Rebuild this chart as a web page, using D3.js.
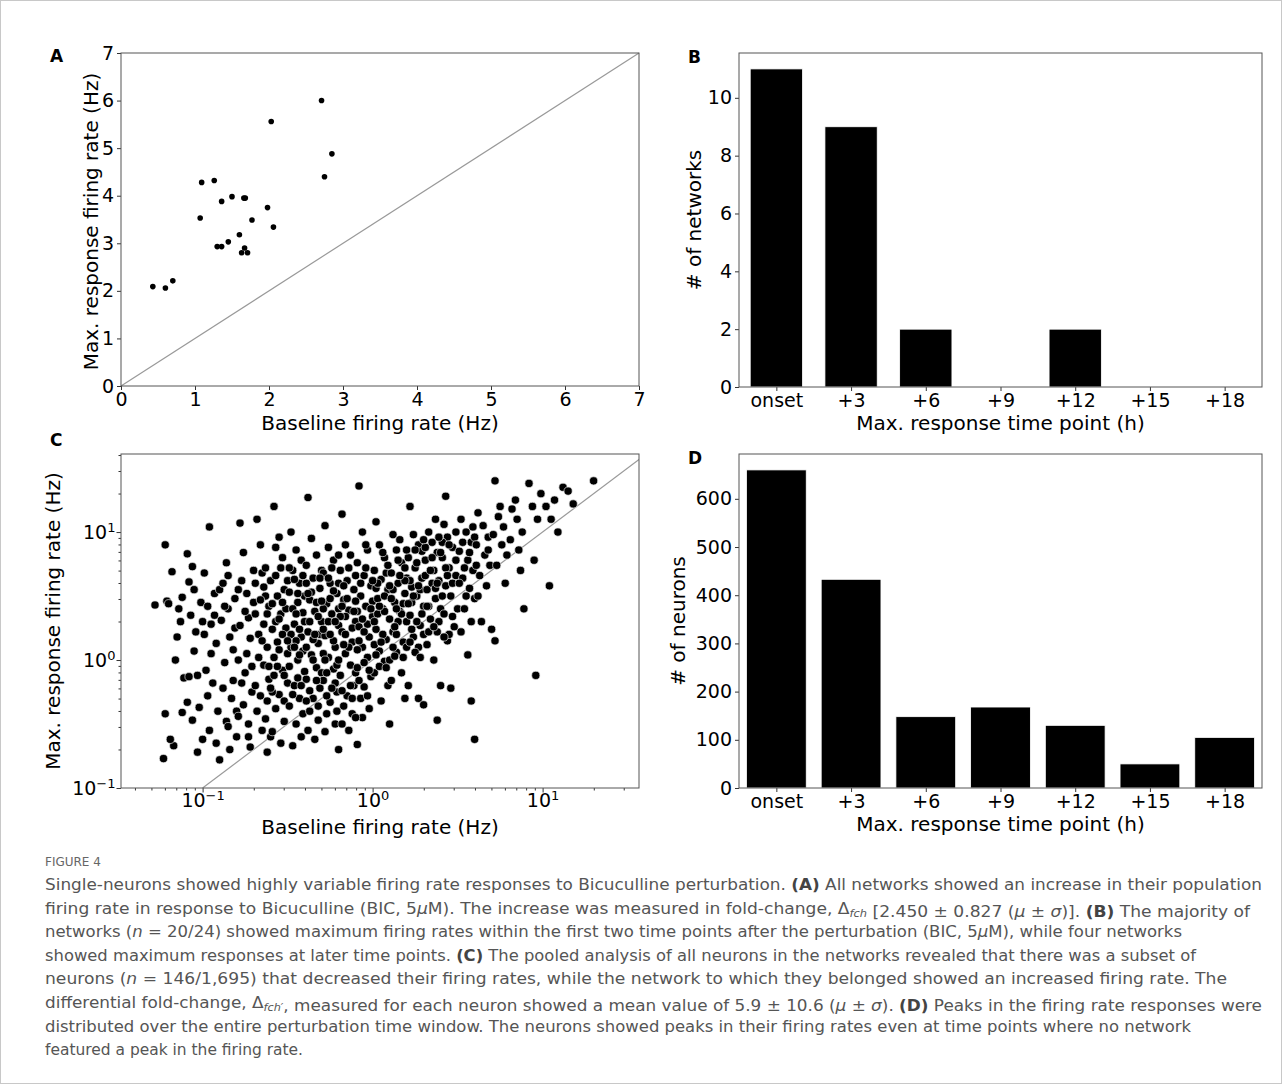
<!DOCTYPE html>
<html>
<head>
<meta charset="utf-8">
<script src="https://cdn.jsdelivr.net/npm/d3@7"></script>
<style>
  body { margin: 0; background: #fff; }
  svg text { font-family: "DejaVu Sans", sans-serif; }
</style>
</head>
<body>
<svg id="fig" width="1282" height="1084"></svg>
<script>
// Panel A: network baseline vs max response (Hz)
var netBaseline = [0.43, 0.60, 0.70, 1.07, 1.09, 1.26, 1.30, 1.36, 1.36, 1.45, 1.50, 1.60,
                   1.63, 1.67, 1.68, 1.66, 1.71, 1.77, 1.98, 2.03, 2.06, 2.71, 2.75, 2.85];
var netMaxResp  = [2.09, 2.06, 2.21, 3.53, 4.28, 4.32, 2.93, 2.93, 3.88, 3.03, 3.98, 3.18,
                   2.80, 2.90, 3.95, 3.95, 2.80, 3.49, 3.75, 5.56, 3.34, 6.00, 4.40, 4.88];

// Panel B / D: counts per max-response time point
var timePoints = ["onset", "+3", "+6", "+9", "+12", "+15", "+18"];
var networkCounts = [11, 9, 2, 0, 2, 0, 0];
var neuronCounts = [660, 433, 148, 168, 130, 50, 105];

// Panel C: neurons, [log10 baseline, log10 max response]
var neuronLogPts = [
[-1.28,0.43],[-1.22,0.9],[-1.22,-0.42],[-1.23,-0.77],[-1.21,0.46],[-1.2,0.44],
[-1.18,0.69],[-1.17,-0.67],[-1.16,0.0],[-1.14,0.4],[-1.13,0.3],[-1.12,0.49],[-1.15,0.18],[-1.11,-0.14],[-1.12,-0.41],[-1.19,-0.62],
[-1.09,0.83],[-1.08,0.61],[-1.06,0.73],[-1.07,0.35],[-1.05,0.55],[-1.04,0.22],[-1.03,-0.12],[-1.02,-0.37],[-1.06,-0.47],[-1.01,0.45],[-1.05,0.07],[-1.09,-0.33],[-1.0,0.3],[-1.03,-0.72],[-1.08,-0.13],[-1.0,-0.62],
[-0.96,1.04],[-0.99,0.68],[-0.97,0.42],[-0.95,0.28],[-0.93,0.52],[-0.92,0.13],[-0.98,-0.08],[-0.94,-0.18],[-0.91,-0.4],[-0.96,-0.55],[-0.9,-0.78],[-0.93,0.35],[-0.99,0.2],[-0.92,-0.65],[-0.97,-0.28],[-0.9,0.55],[-0.95,0.05],
[-0.88,0.6],[-0.86,0.76],[-0.85,0.4],[-0.84,0.18],[-0.87,-0.02],[-0.82,-0.16],[-0.81,0.48],[-0.89,0.31],[-0.83,-0.3],[-0.86,-0.48],[-0.8,-0.6],[-0.84,-0.7],[-0.82,0.08],[-0.88,-0.22],[-0.81,0.25],[-0.85,0.66],[-0.8,-0.4],[-0.87,0.42],
[-0.78,1.07],[-0.76,0.84],[-0.74,0.52],[-0.73,0.33],[-0.77,0.62],[-0.72,0.17],[-0.79,0.0],[-0.75,-0.1],[-0.71,-0.25],[-0.76,-0.35],[-0.73,-0.5],[-0.79,-0.44],[-0.7,0.45],[-0.72,-0.68],[-0.78,0.27],[-0.74,0.05],[-0.71,-0.05],[-0.77,-0.18],[-0.7,0.7],[-0.75,0.38],[-0.73,-0.6],[-0.79,0.55],
[-0.68,1.1],[-0.66,0.9],[-0.65,0.68],[-0.63,0.5],[-0.69,0.36],[-0.67,0.2],[-0.62,0.1],[-0.64,-0.04],[-0.61,-0.15],[-0.66,-0.28],[-0.68,-0.4],[-0.63,-0.46],[-0.6,-0.6],[-0.65,-0.55],[-0.69,0.6],[-0.61,0.42],[-0.64,0.28],[-0.67,0.02],[-0.62,-0.32],[-0.6,0.62],[-0.66,0.47],[-0.63,0.72],[-0.69,-0.2],[-0.61,-0.05],[-0.65,0.15],
[-0.58,1.2],[-0.55,0.96],[-0.53,0.8],[-0.57,0.66],[-0.52,0.55],[-0.59,0.44],[-0.54,0.36],[-0.51,0.25],[-0.56,0.14],[-0.58,0.02],[-0.53,-0.08],[-0.5,-0.18],[-0.55,-0.27],[-0.57,-0.38],[-0.52,-0.48],[-0.59,-0.56],[-0.54,-0.65],[-0.5,0.62],[-0.56,0.5],[-0.51,0.4],[-0.53,0.2],[-0.58,-0.12],[-0.55,0.08],[-0.52,-0.32],[-0.57,0.3],[-0.5,0.05],[-0.54,0.72],[-0.59,-0.25],
[-0.48,1.0],[-0.45,0.86],[-0.47,0.7],[-0.43,0.6],[-0.49,0.53],[-0.44,0.45],[-0.41,0.37],[-0.46,0.28],[-0.42,0.18],[-0.48,0.1],[-0.44,0.0],[-0.4,-0.09],[-0.46,-0.2],[-0.43,-0.3],[-0.49,-0.36],[-0.41,-0.42],[-0.45,-0.5],[-0.47,-0.67],[-0.42,0.78],[-0.4,0.5],[-0.47,0.4],[-0.43,0.24],[-0.49,-0.05],[-0.41,0.07],[-0.46,0.63],[-0.44,-0.14],[-0.4,0.3],[-0.48,0.2],[-0.42,-0.6],[-0.45,0.15],
[-0.38,1.27],[-0.36,0.95],[-0.33,0.82],[-0.39,0.74],[-0.35,0.64],[-0.31,0.56],[-0.37,0.47],[-0.34,0.38],[-0.3,0.3],[-0.38,0.22],[-0.32,0.13],[-0.36,0.04],[-0.33,-0.06],[-0.39,-0.15],[-0.31,-0.22],[-0.35,-0.3],[-0.37,-0.4],[-0.32,-0.47],[-0.38,-0.55],[-0.34,-0.62],[-0.3,0.7],[-0.36,0.53],[-0.32,0.34],[-0.39,0.1],[-0.3,-0.1],[-0.33,0.45],[-0.37,-0.24],[-0.31,0.2],[-0.35,0.0],[-0.39,0.6],
[-0.28,1.05],[-0.26,0.88],[-0.23,0.78],[-0.29,0.68],[-0.25,0.6],[-0.21,0.52],[-0.27,0.44],[-0.24,0.36],[-0.2,0.27],[-0.28,0.19],[-0.22,0.1],[-0.26,0.02],[-0.23,-0.07],[-0.29,-0.16],[-0.21,-0.25],[-0.25,-0.33],[-0.27,-0.42],[-0.22,-0.5],[-0.28,-0.56],[-0.24,0.72],[-0.2,0.4],[-0.26,0.3],[-0.29,0.05],[-0.21,-0.04],[-0.23,0.15],[-0.27,-0.28],[-0.2,0.6],[-0.25,0.48],[-0.22,-0.18],[-0.29,0.24],
[-0.18,1.14],[-0.16,0.9],[-0.13,0.82],[-0.19,0.7],[-0.15,0.62],[-0.11,0.55],[-0.17,0.47],[-0.14,0.39],[-0.1,0.3],[-0.18,0.22],[-0.12,0.14],[-0.16,0.05],[-0.13,-0.04],[-0.19,-0.12],[-0.11,-0.2],[-0.15,-0.28],[-0.17,-0.36],[-0.12,-0.42],[-0.18,-0.5],[-0.14,-0.55],[-0.1,0.66],[-0.16,0.34],[-0.2,0.0],[-0.12,0.25],[-0.18,0.42],[-0.14,0.1],[-0.1,-0.1],[-0.17,0.58],
[-0.08,1.36],[-0.06,1.0],[-0.03,0.86],[-0.09,0.76],[-0.05,0.66],[-0.01,0.58],[-0.07,0.5],[-0.04,0.42],[0.0,0.34],[-0.08,0.26],[-0.02,0.18],[-0.06,0.1],[-0.03,0.02],[-0.09,-0.06],[-0.01,-0.13],[-0.05,-0.21],[-0.07,-0.3],[-0.02,-0.38],[-0.06,-0.45],[-0.09,-0.66],[-0.04,0.72],[0.0,0.46],[-0.08,0.15],[-0.03,0.28],[-0.05,-0.02],[-0.09,0.38],
[0.02,1.08],[0.04,0.9],[0.07,0.8],[0.01,0.7],[0.05,0.63],[0.09,0.55],[0.03,0.48],[0.06,0.4],[0.1,0.32],[0.02,0.24],[0.08,0.16],[0.04,0.07],[0.07,-0.01],[0.01,-0.1],[0.09,-0.2],[0.05,-0.32],[0.03,0.36],[0.08,0.68],[0.06,0.2],[0.02,0.56],[0.1,0.0],[0.04,-0.05],[0.07,0.5],[0.01,0.12],
[0.12,0.98],[0.14,0.86],[0.17,0.76],[0.11,0.68],[0.15,0.6],[0.19,0.52],[0.13,0.45],[0.16,0.38],[0.2,0.3],[0.12,0.22],[0.18,0.14],[0.14,0.06],[0.17,-0.1],[0.11,-0.16],[0.19,0.72],[0.15,0.3],[0.13,0.03],[0.18,0.44],[0.16,0.94],[0.2,0.1],[0.12,0.55],[0.19,-0.3],[0.14,0.2],[0.2,0.64],
[0.22,1.2],[0.24,0.98],[0.27,0.9],[0.21,0.8],[0.25,0.72],[0.29,0.64],[0.23,0.57],[0.26,0.5],[0.3,0.42],[0.22,0.35],[0.28,0.27],[0.24,0.18],[0.27,0.1],[0.21,-0.2],[0.29,0.85],[0.25,0.06],[0.23,0.45],[0.28,0.55],[0.26,0.3],[0.3,0.2],[0.27,-0.3],[0.22,0.62],
[0.33,1.0],[0.35,0.92],[0.38,0.84],[0.31,0.78],[0.36,0.7],[0.39,0.62],[0.32,0.55],[0.37,0.48],[0.4,0.4],[0.34,0.32],[0.38,0.22],[0.32,0.12],[0.36,0.0],[0.4,-0.2],[0.31,0.88],[0.35,0.6],[0.39,0.3],[0.33,0.42],[0.37,1.1],[0.3,-0.35],
[0.42,1.06],[0.44,0.96],[0.47,0.88],[0.41,0.8],[0.45,0.72],[0.49,0.66],[0.43,0.58],[0.46,0.5],[0.5,0.4],[0.42,0.36],[0.48,0.26],[0.44,0.15],[0.46,-0.22],[0.41,0.92],[0.47,0.6],[0.49,0.78],[0.43,1.28],[0.45,0.2],
[0.52,1.1],[0.55,1.0],[0.58,0.92],[0.51,0.85],[0.56,0.78],[0.59,0.7],[0.53,0.64],[0.57,0.56],[0.6,0.48],[0.54,0.4],[0.58,0.3],[0.52,0.22],[0.56,0.04],[0.6,0.96],[0.54,0.72],
[0.62,1.15],[0.65,1.05],[0.68,0.96],[0.61,0.9],[0.66,0.82],[0.69,0.74],[0.63,0.66],[0.67,0.58],[0.64,0.3],[0.7,0.24],[0.62,0.5],[0.68,0.86],
[0.72,1.4],[0.74,1.12],[0.77,1.04],[0.71,0.98],[0.76,0.9],[0.79,0.82],[0.73,0.74],[0.78,0.6],[0.72,0.15],[0.75,1.2],
[0.82,1.18],[0.85,1.1],[0.88,1.0],[0.81,0.94],[0.86,0.86],[0.89,0.4],[0.84,1.25],[0.87,0.7],
[0.92,1.38],[0.94,1.2],[0.97,1.1],[0.95,0.78],[0.96,-0.12],[0.99,1.3],
[1.02,1.2],[1.05,1.1],[1.04,0.58],[1.07,1.25],[1.09,1.0],
[1.12,1.35],[1.15,1.32],[1.18,1.22],[1.3,1.4],
[-0.2,-0.7],[0.1,-0.5],[0.38,-0.47],[0.58,-0.32],[-0.1,-0.45],[-0.62,-0.72],[-0.85,-0.52],[0.6,-0.62],
// denser core
[-0.64,0.57],[-0.59,0.24],[-0.56,-0.05],[-0.53,0.45],[-0.5,0.15],[-0.47,-0.27],[-0.45,0.36],[-0.43,0.04],[-0.41,0.66],[-0.39,-0.32],
[-0.37,0.3],[-0.35,0.16],[-0.33,-0.16],[-0.31,0.64],[-0.29,0.4],[-0.27,-0.1],[-0.25,0.2],[-0.23,0.54],[-0.21,-0.4],[-0.19,0.34],
[-0.17,0.12],[-0.15,0.48],[-0.13,-0.2],[-0.11,0.38],[-0.09,0.08],[-0.07,0.6],[-0.05,0.22],[-0.03,-0.28],[-0.01,0.4],[0.01,0.3],
[0.03,0.6],[0.05,0.14],[0.07,0.38],[0.09,0.74],[0.11,0.48],[0.13,0.26],[0.15,0.78],[0.17,0.36],[0.19,0.62],[0.21,0.44],
[0.23,0.24],[0.25,0.86],[0.27,0.58],[0.29,0.36],[0.31,0.66],[0.33,0.22],[0.35,0.8],[0.37,0.56],[0.39,0.96],[0.41,0.5],
[0.43,0.72],[0.45,0.9],[0.47,0.34],[0.49,1.0],[0.51,0.6],[0.53,0.92],[0.55,0.5],[0.57,0.84],[0.59,1.04],[0.61,0.74],
[-0.62,0.36],[-0.6,-0.22],[-0.57,0.88],[-0.55,0.32],[-0.52,-0.12],[-0.49,0.72],[-0.46,0.1],[-0.44,0.52],[-0.42,-0.2],[-0.38,0.52],
[-0.34,0.2],[-0.32,-0.36],[-0.3,0.46],[-0.28,0.0],[-0.26,0.64],[-0.24,-0.22],[-0.22,0.3],[-0.2,0.82],[-0.18,-0.24],[-0.16,0.2],
[-0.14,0.72],[-0.12,-0.3],[-0.1,0.46],[-0.08,-0.16],[-0.06,0.32],[-0.04,0.9],[-0.02,-0.08],[0.0,0.62],[0.02,0.04],[0.04,0.42],
[0.06,0.84],[0.08,-0.06],[0.1,0.58],[0.12,0.1],[0.14,0.4],[0.16,0.66],[0.18,0.02],[0.2,0.86],[0.22,0.14],[0.24,0.5],
[0.26,0.76],[0.28,0.02],[0.3,0.94],[0.32,0.42],[0.34,0.7],[0.36,0.26],[0.38,0.6],[0.4,0.84],[0.42,0.18],[0.44,0.66]
];

var capLines = [
  [["Single-neurons showed highly variable firing rate responses to Bicuculline perturbation. ", ""], ["(A)", "b"], [" All networks showed an increase in their population", ""]],
  [["firing rate in response to Bicuculline (BIC, 5", ""], ["μ", "i"], ["M). The increase was measured in fold-change, Δ", ""], ["fch", "s"], [" [2.450 ± 0.827 (", ""], ["μ", "i"], [" ± ", ""], ["σ", "i"], [")]. ", ""], ["(B)", "b"], [" The majority of", ""]],
  [["networks (", ""], ["n", "i"], [" = 20/24) showed maximum firing rates within the first two time points after the perturbation (BIC, 5", ""], ["μ", "i"], ["M), while four networks", ""]],
  [["showed maximum responses at later time points. ", ""], ["(C)", "b"], [" The pooled analysis of all neurons in the networks revealed that there was a subset of", ""]],
  [["neurons (", ""], ["n", "i"], [" = 146/1,695) that decreased their firing rates, while the network to which they belonged showed an increased firing rate. The", ""]],
  [["differential fold-change, Δ", ""], ["fch′", "s"], [", measured for each neuron showed a mean value of 5.9 ± 10.6 (", ""], ["μ", "i"], [" ± ", ""], ["σ", "i"], ["). ", ""], ["(D)", "b"], [" Peaks in the firing rate responses were", ""]],
  [["distributed over the entire perturbation time window. The neurons showed peaks in their firing rates even at time points where no network", ""]],
  [["featured a peak in the firing rate.", ""]]
];
var capWidths = [1217, 1205, 1137, 1151, 1182, 1217, 1146, 258];

var svg = d3.select("#fig");
svg.append("rect").attr("x", 0.5).attr("y", 0.5).attr("width", 1281).attr("height", 1083)
  .attr("fill", "none").attr("stroke", "#c8c8c8");

var tickFont = 19, labFont = 20;

function styleAxis(g) {
  g.selectAll("path").remove();
  g.selectAll("line").attr("stroke", "#333");
  g.selectAll("text").attr("font-size", tickFont).attr("fill", "#000");
}

function frame(x0, y0, x1, y1) {
  svg.append("rect").attr("x", x0).attr("y", y0).attr("width", x1 - x0).attr("height", y1 - y0)
    .attr("fill", "none").attr("stroke", "#555").attr("stroke-width", 1);
}

function panelLabel(t, x, y) {
  svg.append("text").attr("x", x).attr("y", y).attr("font-size", 17).attr("font-weight", "bold")
    .attr("font-family", "Open Sans, DejaVu Sans, sans-serif").text(t);
}

function axisLabels(xl, yl, cx, by, lx, cy) {
  svg.append("text").attr("x", cx).attr("y", by).attr("text-anchor", "middle")
    .attr("font-size", labFont).text(xl);
  svg.append("text").attr("transform", "translate(" + lx + "," + cy + ") rotate(-90)")
    .attr("text-anchor", "middle").attr("font-size", labFont).text(yl);
}

///////////////////////////////////////////////////////////////////////////////
// Panel A

(function () {
  var L = 121, R = 639, T = 53, B = 386;
  var x = d3.scaleLinear().domain([0, 7]).range([L, R]);
  var y = d3.scaleLinear().domain([0, 7]).range([B, T]);
  svg.append("line").attr("x1", x(0)).attr("y1", y(0)).attr("x2", x(7)).attr("y2", y(7))
    .attr("stroke", "#999").attr("stroke-width", 1.2);
  svg.selectAll(".ptA").data(netBaseline).enter().append("circle")
    .attr("cx", function (d) { return x(d); })
    .attr("cy", function (d, i) { return y(netMaxResp[i]); })
    .attr("r", 2.8).attr("fill", "#000");
  styleAxis(svg.append("g").attr("transform", "translate(0," + B + ")")
    .call(d3.axisBottom(x).ticks(7).tickSize(4).tickFormat(d3.format("d"))));
  styleAxis(svg.append("g").attr("transform", "translate(" + L + ",0)")
    .call(d3.axisLeft(y).ticks(7).tickSize(4).tickFormat(d3.format("d"))));
  frame(L, T, R, B);
  axisLabels("Baseline firing rate (Hz)", "Max. response firing rate (Hz)", (L + R) / 2, 430, 98, (T + B) / 2 + 2);
  panelLabel("A", 50, 62);
})();

///////////////////////////////////////////////////////////////////////////////
// Panels B and D

function barPanel(counts, yMax, yTicks, T, B, yLab, letter, barW) {
  var L = 739, R = 1262;
  var x = d3.scaleLinear().domain([-0.5, 6.5]).range([L, R]);
  var y = d3.scaleLinear().domain([0, yMax]).range([B, T]);
  svg.selectAll(".bar" + letter).data(counts).enter().append("rect")
    .attr("x", function (d, i) { return x(i - barW / 2); })
    .attr("width", x(barW) - x(0))
    .attr("y", function (d) { return y(d); })
    .attr("height", function (d) { return B - y(d); })
    .attr("fill", "#000").attr("stroke", "#fff").attr("stroke-width", 0.8);
  styleAxis(svg.append("g").attr("transform", "translate(0," + B + ")")
    .call(d3.axisBottom(x).tickValues(d3.range(7)).tickSize(4)
      .tickFormat(function (d) { return timePoints[d]; })));
  styleAxis(svg.append("g").attr("transform", "translate(" + L + ",0)")
    .call(d3.axisLeft(y).tickValues(yTicks).tickSize(4)));
  frame(L, T, R, B);
  axisLabels("Max. response time point (h)", yLab, (L + R) / 2, B + 43, L - (yMax > 100 ? 54 : 38), (T + B) / 2);
  panelLabel(letter, 688, T + 10);
}

barPanel(networkCounts, 11.55, [0, 2, 4, 6, 8, 10], 53, 387, "# of networks", "B", 0.7);
barPanel(neuronCounts, 693, [0, 100, 200, 300, 400, 500, 600], 454, 788, "# of neurons", "D", 0.8);

///////////////////////////////////////////////////////////////////////////////
// Panel C

(function () {
  var L = 121, R = 639, T = 454, B = 788;
  var x = d3.scaleLog().domain([Math.pow(10, -1.48), Math.pow(10, 1.567)]).range([L, R]);
  var y = d3.scaleLog().domain([0.1, Math.pow(10, 1.61)]).range([B, T]);
  var g = svg.append("g");
  g.append("clipPath").attr("id", "clipC").append("rect")
    .attr("x", L).attr("y", T).attr("width", R - L).attr("height", B - T);
  g.append("line").attr("clip-path", "url(#clipC)")
    .attr("x1", x(0.1)).attr("y1", y(0.1)).attr("x2", x(40)).attr("y2", y(40))
    .attr("stroke", "#999").attr("stroke-width", 1.2);
  g.selectAll("circle").data(neuronLogPts).enter().append("circle")
    .attr("cx", function (d) { return x(Math.pow(10, d[0])); })
    .attr("cy", function (d) { return y(Math.pow(10, d[1])); })
    .attr("r", 4.1).attr("fill", "#000").attr("stroke", "#e4e4e4").attr("stroke-width", 0.7);

  var sup = { "-1": "−1", "0": "0", "1": "1" };
  function logFmt(sel) {
    sel.selectAll(".tick text").each(function (d) {
      var e = Math.round(Math.log10(d));
      var t = d3.select(this);
      if (Math.abs(Math.pow(10, e) - d) > 1e-9) { t.text(""); return; }
      t.text("10");
      t.append("tspan").attr("dy", "-0.5em").attr("font-size", 13).text(sup[e]);
    });
  }
  var xa = svg.append("g").attr("transform", "translate(0," + B + ")")
    .call(d3.axisBottom(x).ticks(20).tickSize(2.5));
  styleAxis(xa); logFmt(xa);
  xa.selectAll(".tick").filter(function (d) { return Math.abs(Math.log10(d) % 1) < 1e-9; })
    .select("line").attr("y2", 4.5);
  var ya = svg.append("g").attr("transform", "translate(" + L + ",0)")
    .call(d3.axisLeft(y).ticks(20).tickSize(2.5));
  styleAxis(ya); logFmt(ya);
  ya.selectAll(".tick").filter(function (d) { return Math.abs(Math.log10(d) % 1) < 1e-9; })
    .select("line").attr("x2", -4.5);
  frame(L, T, R, B);
  axisLabels("Baseline firing rate (Hz)", "Max. response firing rate (Hz)", (L + R) / 2, 834, 60, (T + B) / 2);
  panelLabel("C", 50, 446);
})();

///////////////////////////////////////////////////////////////////////////////
// Caption

var capFont = "Open Sans, sans-serif";
svg.append("text").attr("x", 45).attr("y", 866).attr("font-family", capFont)
  .attr("font-size", 12).attr("fill", "#666").text("FIGURE 4");

capLines.forEach(function (line, i) {
  var t = svg.append("text").attr("x", 45).attr("y", 890 + i * 23.6)
    .attr("font-family", capFont).attr("font-size", 15).attr("fill", "#555");
  if (capWidths[i]) t.attr("textLength", capWidths[i]).attr("lengthAdjust", "spacingAndGlyphs");
  line.forEach(function (seg) {
    var s = t.append("tspan").text(seg[0]);
    if (seg[1] === "b") s.attr("font-weight", "bold").attr("fill", "#444");
    if (seg[1] === "i") s.attr("font-style", "italic");
    if (seg[1] === "s") {
      s.attr("font-style", "italic").attr("font-size", 10).attr("dy", 3);
      t.append("tspan").attr("dy", -3).text("");
    }
  });
});
</script>
</body>
</html>
